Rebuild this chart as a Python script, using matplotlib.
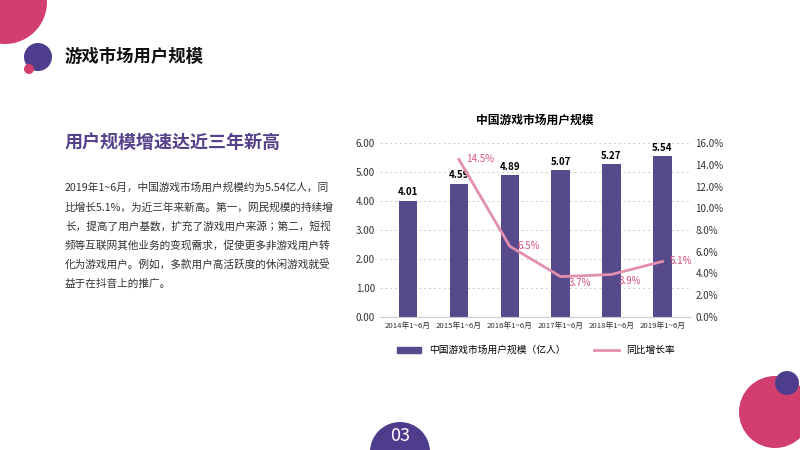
import matplotlib
matplotlib.use("Agg")
import matplotlib.pyplot as plt
from matplotlib import font_manager as fm
from matplotlib.patches import Circle, Patch
from matplotlib.lines import Line2D

cjk = sorted({f.name for f in fm.fontManager.ttflist if 'CJK' in f.name or 'Noto' in f.name})
fam = None
for pref in ['Noto Sans CJK SC', 'Noto Sans CJK JP', 'Noto Sans SC']:
    if pref in cjk:
        fam = pref; break
if fam is None:
    fam = next((n for n in cjk if 'CJK' in n), 'DejaVu Sans')
plt.rcParams['font.family'] = [fam, 'DejaVu Sans']

categories = ["2014年1~6月", "2015年1~6月", "2016年1~6月", "2017年1~6月", "2018年1~6月", "2019年1~6月"]
users = [4.01, 4.59, 4.89, 5.07, 5.27, 5.54]
growth = [None, 14.5, 6.5, 3.7, 3.9, 5.1]

PURPLE = "#574a8c"
PINK = "#e38fb0"

fig = plt.figure(figsize=(8, 4.5), dpi=100)
bg = fig.add_axes([0, 0, 1, 1])
bg.set_xlim(0, 800); bg.set_ylim(450, 0); bg.axis('off')
for (cx, cy, r, c) in [(5, 2, 42, "#d23f6e"), (38, 57, 14, "#4e3c8c"), (29, 69, 5, "#d23f6e"),
                       (775, 412, 36, "#d23f6e"), (787, 383, 12, "#4e3c8c"), (400, 452, 30, "#4e3c8c")]:
    bg.add_patch(Circle((cx, cy), r, color=c, lw=0))
bg.text(400, 436, "03", color="white", fontsize=13, ha='center', va='center')
bg.text(65, 57, "游戏市场用户规模", fontsize=12.5, fontweight='bold', va='center', color="#111")
bg.text(65, 142, "用户规模增速达近三年新高", fontsize=13, fontweight='bold', va='center', color="#55428a")
lines = ["2019年1~6月，中国游戏市场用户规模约为5.54亿人，同",
         "比增长5.1%，为近三年来新高。第一，网民规模的持续增",
         "长，提高了用户基数，扩充了游戏用户来源；第二，短视",
         "频等互联网其他业务的变现需求，促使更多非游戏用户转",
         "化为游戏用户。例如，多款用户高活跃度的休闲游戏就受",
         "益于在抖音上的推广。"]
for i, l in enumerate(lines):
    bg.text(65, 188 + i * 19.2, l, fontsize=7.7, va='center', color="#333")

ax = fig.add_axes([0.475, 0.296, 0.388, 0.386])
x = list(range(len(categories)))
ax.bar(x, users, width=0.36, color=PURPLE, zorder=2)
for xi, v in zip(x, users):
    ax.text(xi, v + 0.12, f"{v:.2f}", ha='center', va='bottom', fontsize=7, fontweight='bold')
ax.set_ylim(0, 6)
ax.set_yticks([0, 1, 2, 3, 4, 5, 6])
ax.set_yticklabels([f"{v:.2f}" for v in range(7)], fontsize=7)
ax.set_xticks(x)
ax.set_xticklabels(categories, fontsize=5.6)
ax.set_xlim(-0.55, 5.55)
ax.grid(axis='y', ls=(0, (2, 3)), color="#ccc", lw=0.7, zorder=0)
for s in ['top', 'right', 'left']:
    ax.spines[s].set_visible(False)
ax.spines['bottom'].set_color("#ccc")
ax.tick_params(length=0, colors="#333")
ax.set_title("中国游戏市场用户规模", fontsize=8.5, fontweight='bold', pad=14)

ax2 = ax.twinx()
gx = [xi for xi, g in zip(x, growth) if g is not None]
gy = [g for g in growth if g is not None]
ax2.plot(gx, gy, color=PINK, lw=2, zorder=3)
for xi, g in zip(gx, gy):
    ax2.text(xi + 0.15, g + (-0.6 if g < 5 else 0), f"{g}%", color="#d9507f", fontsize=7, va='center')
ax2.set_ylim(0, 16)
ax2.set_yticks(range(0, 17, 2))
ax2.set_yticklabels([f"{v:.1f}%" for v in range(0, 17, 2)], fontsize=7)
for s in ['top', 'right', 'left', 'bottom']:
    ax2.spines[s].set_visible(False)
ax2.tick_params(length=0, colors="#333")

fig.legend([Patch(color=PURPLE), Line2D([], [], color=PINK, lw=2)],
           ["中国游戏市场用户规模（亿人）", "同比增长率"], loc='center', bbox_to_anchor=(0.67, 0.222),
           ncol=2, frameon=False, fontsize=7, handlelength=2.5, columnspacing=3, handleheight=0.6)

fig.savefig("out.png", dpi=100)
